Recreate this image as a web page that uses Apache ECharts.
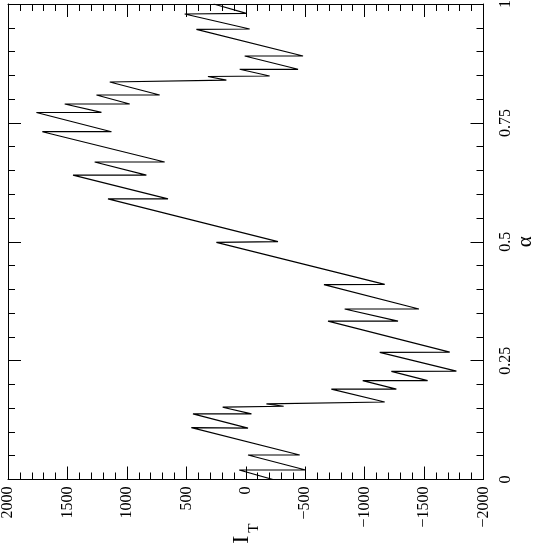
<!DOCTYPE html>
<html>
<head>
<meta charset="utf-8">
<script src="https://cdn.jsdelivr.net/npm/echarts@6/dist/echarts.min.js"></script>
<style>
html,body{margin:0;padding:0;background:#fff;}
#chart{width:546px;height:545px;}
</style>
</head>
<body>
<div id="chart"></div>
<script>
// I_T values (horizontal axis, inverted) and alpha values (vertical axis), in path order
const iT = [-229, 55, -504, -19, -454, 457, -19, 444, -48, 194, -319, -174, -1169, -720, -1267, -984, -1530, -1225, -1772, -1127, -1716, -692, -1281, -832, -1457, -658, -1169, 247, -271, 1159, 654, 1453, 836, 1271, 682, 1711, 1130, 1761, 1214, 1523, 976, 1256, 724, 1144, 163, 318, -201, 51, -440, 9, -482, 415, -33, 514, -5, 270];
const alpha = [0.0, 0.020, 0.020, 0.0515, 0.0515, 0.109, 0.108, 0.138, 0.138, 0.152, 0.154, 0.159, 0.163, 0.190, 0.190, 0.208, 0.208, 0.2275, 0.228, 0.2675, 0.268, 0.333, 0.333, 0.3586, 0.3586, 0.4097, 0.4105, 0.4988, 0.5001, 0.590, 0.590, 0.640, 0.640, 0.6677, 0.6677, 0.7314, 0.7314, 0.7718, 0.7722, 0.7897, 0.7897, 0.8086, 0.8086, 0.836, 0.840, 0.8475, 0.8486, 0.8627, 0.8627, 0.8906, 0.8906, 0.9468, 0.9474, 0.979, 0.9804, 1.0];
const iTicks = [2000, 1500, 1000, 500, 0, -500, -1000, -1500, -2000];
const alphaTicks = [0, 0.25, 0.5, 0.75, 1];

const font = '"Liberation Serif", "DejaVu Serif", serif';
const ink = '#000';
const data = iT.map((v, k) => [v, alpha[k]]);

const iMin = Math.min(...iTicks), iMax = Math.max(...iTicks);
const aMin = Math.min(...alphaTicks), aMax = Math.max(...alphaTicks);

function baseAxis() {
  return {
    type: 'value',
    axisLine: { show: true, onZero: false, lineStyle: { color: ink, width: 1 } },
    axisTick: { show: true, inside: true, length: 13, lineStyle: { color: ink, width: 1 } },
    minorTick: { show: true, splitNumber: 5, length: 7, lineStyle: { color: ink, width: 1 } },
    splitLine: { show: false },
    minorSplitLine: { show: false }
  };
}

const chart = echarts.init(document.getElementById('chart'), null, { renderer: 'canvas' });
chart.setOption({
  animation: false,
  backgroundColor: '#fff',
  grid: { left: 8, top: 4, width: 475.5, height: 475.5, containLabel: false, outerBoundsMode: 'none' },
  xAxis: [
    Object.assign(baseAxis(), {
      min: iMin, max: iMax, interval: 500, inverse: true, position: 'bottom',
      axisLabel: {
        show: true, rotate: 90, margin: 7, color: ink, fontFamily: font, fontSize: 16,
        formatter: v => String(v).replace('-', '\u2212')
      },
      name: '{a|I}{s|T}', nameLocation: 'middle', nameRotate: 90, nameGap: 44,
      nameMoveOverlap: false,
      nameTextStyle: {
        color: ink, fontFamily: font,
        rich: {
          a: { fontFamily: font, fontSize: 24, lineHeight: 24, verticalAlign: 'top', color: ink },
          s: { fontFamily: font, fontSize: 15, lineHeight: 32, verticalAlign: 'bottom', color: ink, padding: [0, 0, 0, 3] }
        }
      }
    }),
    Object.assign(baseAxis(), {
      min: iMin, max: iMax, interval: 500, inverse: true, position: 'top',
      axisLabel: { show: false }
    })
  ],
  yAxis: [
    Object.assign(baseAxis(), {
      min: aMin, max: aMax, interval: 0.25, position: 'right',
      axisLabel: { show: true, rotate: 90, margin: 14, color: ink, fontFamily: font, fontSize: 16 },
      name: '\u03b1', nameLocation: 'middle', nameRotate: 90, nameGap: 31,
      nameMoveOverlap: false,
      nameTextStyle: { color: ink, fontFamily: font, fontSize: 21 }
    }),
    Object.assign(baseAxis(), {
      min: aMin, max: aMax, interval: 0.25, position: 'left',
      axisLabel: { show: false }
    })
  ],
  series: [{
    type: 'line',
    xAxisIndex: 0, yAxisIndex: 0,
    data: data,
    showSymbol: false,
    symbol: 'none',
    lineStyle: { color: ink, width: 1.2 },
    silent: true
  }]
});
</script>
</body>
</html>
